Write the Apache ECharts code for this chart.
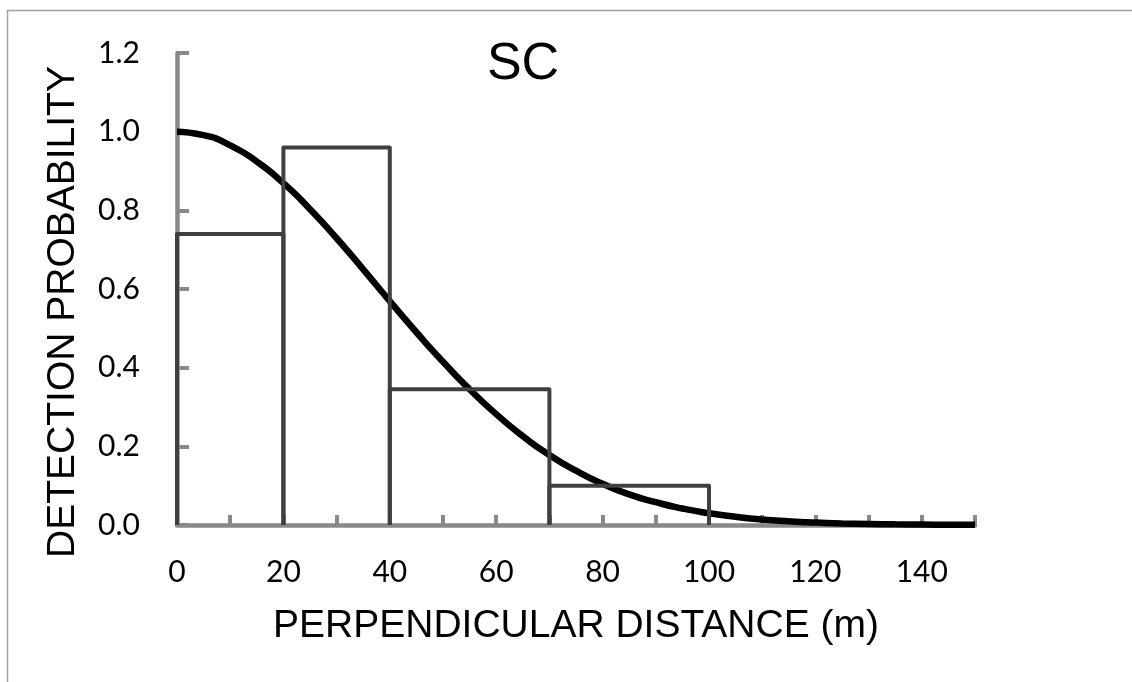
<!DOCTYPE html>
<html>
<head>
<meta charset="utf-8">
<script src="https://cdn.jsdelivr.net/npm/echarts@6/dist/echarts.min.js"></script>
<style>
html,body{margin:0;padding:0;background:#fff;}
#chart{width:1132px;height:682px;}
</style>
</head>
<body>
<div id="chart"></div>
<script>
// Histogram bins (perpendicular distance, m) and scaled detection frequencies
const binStart = [0, 20, 40, 70];
const binEnd = [20, 40, 70, 100];
const binHeight = [0.74, 0.96, 0.345, 0.10];

// Fitted detection function
const curveX = [0,5,10,15,20,25,30,35,40,45,50,55,60,65,70,75,80,85,90,95,100,105,110,115,120,125,130,135,140,145,150];
const curveY = [1.00,0.991,0.965,0.924,0.869,0.803,0.729,0.650,0.569,0.490,0.415,0.345,0.282,0.226,0.178,0.138,0.105,0.078,0.058,0.042,0.030,0.021,0.014,0.0095,0.0063,0.0041,0.0026,0.0016,0.0010,0.0006,0.0004];

const titleText = 'SC';
const xTitle = 'PERPENDICULAR DISTANCE (m)';
const yTitle = 'DETECTION PROBABILITY';

const chart = echarts.init(document.getElementById('chart'), null, {renderer: 'canvas'});

const histData = binStart.map((s, i) => [s, binEnd[i], binHeight[i]]);
const curveData = curveX.map((x, i) => [x, curveY[i]]);

const option = {
  animation: false,
  backgroundColor: '#ffffff',
  grid: {left: 177, right: 157, top: 53, bottom: 157, containLabel: false},
  xAxis: {
    type: 'value', min: 0, max: 150, interval: 10,
    axisLine: {show: true, onZero: false, lineStyle: {color: '#898989', width: 4.5}},
    axisTick: {show: true, inside: true, length: 10, lineStyle: {color: '#898989', width: 4}},
    axisLabel: {
      margin: 32, color: '#000', fontSize: 30, fontFamily: 'Lato',
      formatter: v => (v % 20 === 0 && v <= 140) ? String(v) : ''
    },
    splitLine: {show: false},
    name: xTitle, nameLocation: 'middle', nameGap: 82,
    nameTextStyle: {color: '#000', fontSize: 39, fontFamily: 'Liberation Sans'}
  },
  yAxis: {
    type: 'value', min: 0, max: 1.2, interval: 0.2,
    axisLine: {show: true, lineStyle: {color: '#898989', width: 4.5}},
    axisTick: {show: true, inside: true, length: 12, lineStyle: {color: '#898989', width: 4}},
    axisLabel: {margin: 37, color: '#000', fontSize: 30, fontFamily: 'Lato', formatter: v => v.toFixed(1)},
    splitLine: {show: false}
  },
  graphic: [
    {type: 'rect', shape: {x: 7.5, y: 10.5, width: 1200, height: 800},
     style: {fill: 'none', stroke: '#a0a0a0', lineWidth: 1.5}, silent: true, z: -1},
    {type: 'text', x: 523, y: 65, style: {text: titleText, fill: '#000', font: '52px "Liberation Sans"', align: 'center', verticalAlign: 'middle'}},
    {type: 'text', x: 63, y: 312, rotation: Math.PI / 2,
     style: {text: yTitle, fill: '#000', font: '39px "Liberation Sans"', align: 'center', verticalAlign: 'middle'}}
  ],
  series: [
    {
      type: 'line', data: curveData, smooth: 0.6, symbol: 'none', z: 2,
      lineStyle: {color: '#000', width: 6.5}
    },
    {
      type: 'custom', z: 3,
      data: histData,
      renderItem: function (params, api) {
        const x0 = api.value(0), x1 = api.value(1), h = api.value(2);
        const p0 = api.coord([x0, 0]);
        const p1 = api.coord([x0, h]);
        const p2 = api.coord([x1, h]);
        const p3 = api.coord([x1, 0]);
        return {
          type: 'polyline',
          shape: {points: [p0, p1, p2, p3]},
          style: {fill: 'none', stroke: '#404040', lineWidth: 4, lineJoin: 'round'}
        };
      }
    }
  ]
};
chart.setOption(option);
</script>
</body>
</html>
